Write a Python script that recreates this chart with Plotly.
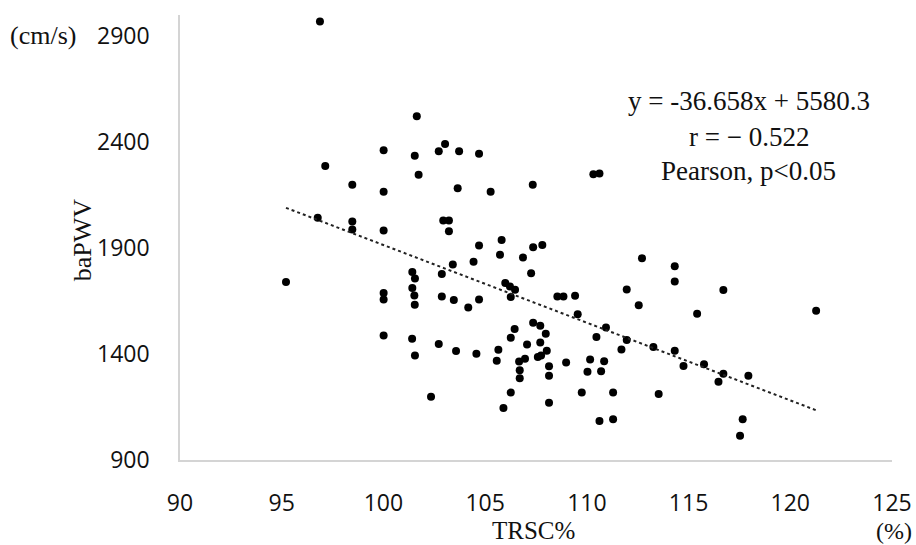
import plotly.graph_objects as go

# TRSC% (x) and baPWV (y) values
trsc = [
    96.88, 101.64, 100.01, 101.54, 103.03, 102.72, 103.72, 104.70, 97.14, 101.73,
    98.47, 100.01, 103.65, 105.27, 96.77, 98.47, 98.47, 100.01, 102.94, 103.22,
    103.22, 104.70, 105.81, 105.73, 104.43, 103.41, 102.87, 101.42, 101.55, 101.42,
    101.52, 101.54, 100.01, 100.01, 102.87, 103.46, 104.17, 104.70, 105.99, 106.22,
    106.47, 106.26, 95.21, 100.01, 101.41, 101.55, 102.72, 103.57, 104.57, 105.65,
    105.57, 106.45, 106.26, 102.34, 105.90, 106.26, 107.34, 110.32, 110.62, 107.36,
    107.81, 106.86, 107.26, 108.55, 108.85, 109.42, 109.55, 110.94, 112.71, 114.32,
    114.32, 111.96, 112.55, 115.42, 116.71, 107.36, 107.71, 107.98, 107.06, 107.71,
    108.03, 107.59, 107.75, 106.96, 106.67, 106.70, 106.70, 108.14, 108.14, 108.14,
    108.98, 110.47, 110.16, 110.85, 110.03, 110.70, 109.75, 111.29, 110.62, 111.29,
    111.70, 111.96, 113.27, 114.32, 114.75, 113.53, 115.76, 116.71, 116.47, 117.94,
    117.66, 117.53, 121.27,
]
bapwv = [
    2969, 2522, 2362, 2336, 2391, 2357, 2357, 2345, 2287, 2246,
    2199, 2166, 2183, 2166, 2043, 2025, 1988, 1983, 2030, 2030,
    1980, 1912, 1938, 1869, 1836, 1822, 1778, 1787, 1756, 1712,
    1676, 1633, 1688, 1657, 1672, 1655, 1620, 1657, 1735, 1719,
    1704, 1669, 1740, 1488, 1472, 1393, 1448, 1414, 1401, 1420,
    1368, 1518, 1477, 1199, 1145, 1218, 2199, 2248, 2252, 1904,
    1915, 1856, 1781, 1672, 1672, 1675, 1588, 1525, 1852, 1814,
    1742, 1705, 1630, 1590, 1702, 1548, 1534, 1496, 1445, 1455,
    1415, 1386, 1393, 1378, 1365, 1323, 1286, 1343, 1297, 1170,
    1360, 1480, 1374, 1366, 1317, 1319, 1218, 1218, 1084, 1092,
    1422, 1466, 1433, 1415, 1344, 1212, 1352, 1307, 1269, 1297,
    1092, 1015, 1604,
]

SLOPE = -36.658
INTERCEPT = 5580.3

x_ticks = [90, 95, 100, 105, 110, 115, 120, 125]
y_ticks = [900, 1400, 1900, 2400, 2900]

stats_lines = ["y = -36.658x + 5580.3", "r = − 0.522", "Pearson, p<0.05"]

x_fit = [min(trsc), max(trsc)]
y_fit = [SLOPE * v + INTERCEPT for v in x_fit]

fig = go.Figure()
fig.add_trace(go.Scatter(
    x=trsc, y=bapwv, mode="markers",
    marker=dict(color="black", size=8, line=dict(width=0)),
    showlegend=False,
))
fig.add_trace(go.Scatter(
    x=x_fit, y=y_fit, mode="lines",
    line=dict(color="#222222", width=2, dash="dot"),
    showlegend=False,
))

serif = "Liberation Serif, Times New Roman, serif"
sans = "Open Sans, sans-serif"

fig.update_layout(
    width=916, height=545,
    margin=dict(l=180, r=24, t=15, b=85),
    plot_bgcolor="white", paper_bgcolor="white",
    xaxis=dict(
        range=[90, 125], tickvals=x_ticks, showgrid=False, zeroline=False,
        showline=True, linecolor="#d4d4d4", linewidth=1.5, ticks="",
        tickfont=dict(family=sans, size=23, color="#111111"),
        ticklabelstandoff=22, automargin=False,
    ),
    yaxis=dict(
        range=[900, 3000], tickvals=y_ticks, showgrid=False, zeroline=False,
        showline=True, linecolor="#d4d4d4", linewidth=1.5, ticks="",
        tickfont=dict(family=sans, size=23, color="#111111"),
        ticklabelstandoff=24, automargin=False,
    ),
)

# regression statistics text
for txt, yv in zip(stats_lines, [2593, 2422, 2262]):
    fig.add_annotation(x=117.95, y=yv, xref="x", yref="y", text=txt,
                       showarrow=False, xanchor="center", yanchor="middle",
                       font=dict(family=serif, size=27, color="#111111"))

# axis titles and units
fig.add_annotation(x=-0.1376, y=0.494, xref="paper", yref="paper", text="baPWV",
                   textangle=-90, showarrow=False, xanchor="center", yanchor="middle",
                   font=dict(family=serif, size=26, color="#111111"))
fig.add_annotation(x=-0.1924, y=0.953, xref="paper", yref="paper", text="(cm/s)",
                   showarrow=False, xanchor="center", yanchor="middle",
                   font=dict(family=serif, size=26, color="#111111"))
fig.add_annotation(x=0.4958, y=-0.158, xref="paper", yref="paper", text="TRSC%",
                   showarrow=False, xanchor="center", yanchor="middle",
                   font=dict(family=serif, size=25, color="#111111"))
fig.add_annotation(x=1.0028, y=-0.16, xref="paper", yref="paper", text="(%)",
                   showarrow=False, xanchor="center", yanchor="middle",
                   font=dict(family=serif, size=24, color="#111111"))

fig.write_html(
    "out.html",
    config={"displayModeBar": False},
    post_script="document.body.style.margin='0';document.body.style.overflow='hidden';",
)
